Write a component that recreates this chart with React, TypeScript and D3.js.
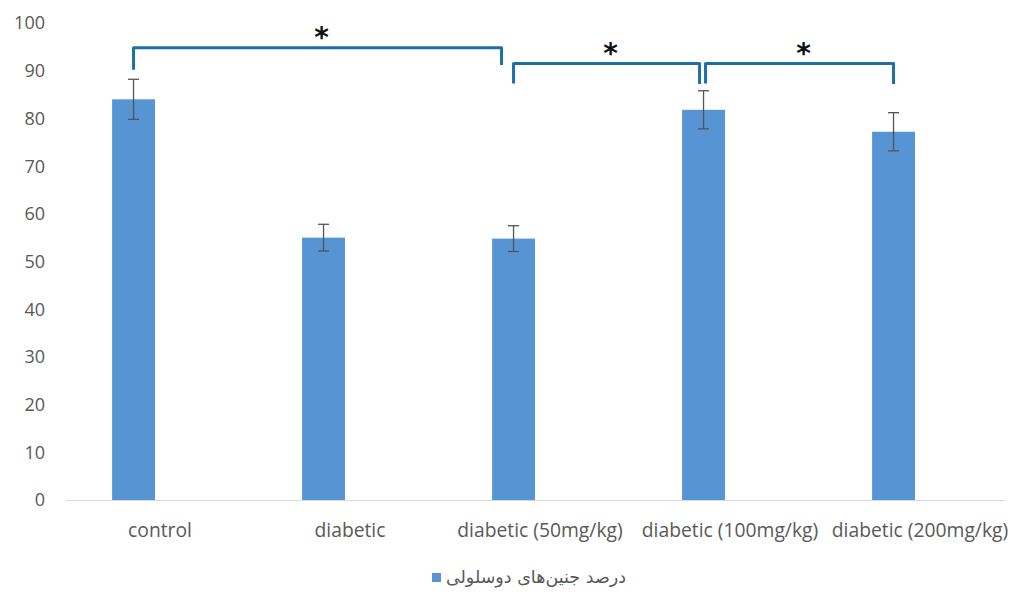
import * as d3 from 'd3'

const categories = ['control', 'diabetic', 'diabetic (50mg/kg)', 'diabetic (100mg/kg)', 'diabetic (200mg/kg)']
const values = [84, 55, 54.8, 81.8, 77.2]
const errors = [4.2, 2.8, 2.7, 4, 4]
const yTicks = [0, 10, 20, 30, 40, 50, 60, 70, 80, 90, 100]
const seriesName = 'درصد جنین‌های دوسلولی'

// significance brackets: [from index, to index, top value, left leg value, right leg value]
const brackets = [
  { from: 0, to: 2, top: 94.8, leftEnd: 90.2, rightEnd: 91.2, inL: 0, inR: -12 },
  { from: 2, to: 3, top: 91.5, leftEnd: 87.3, rightEnd: 87.2, inL: 0, inR: -4 },
  { from: 3, to: 4, top: 91.5, leftEnd: 87.3, rightEnd: 87.2, inL: 2, inR: 0 },
]

const W = 1013
const H = 598

export default function App() {
  const x = d3.scaleBand<string>().domain(categories).range([65, 1015]).padding(0)
  // second slot is empty (single series in a clustered layout)
  const x1 = d3.scaleBand<string>().domain(['s1', 's2']).range([0, x.bandwidth()]).paddingInner(0.19).paddingOuter(0.89)
  const y = d3.scaleLinear().domain([0, 100]).range([500, 23])

  const barCx = (i: number) => (x(categories[i]) as number) + (x1('s1') as number) + x1.bandwidth() / 2
  const font = '"Open Sans", "Noto Sans", sans-serif'

  return (
    <svg width={W} height={H} style={{ position: 'absolute', left: 0, top: 0, background: '#fff' }}>
      {/* y tick labels */}
      {yTicks.map((t) => (
        <text key={t} x={45} y={y(t)} dy="0.36em" textAnchor="end" fontFamily={font} fontSize={18} fill="#595959">
          {t}
        </text>
      ))}
      {/* bars */}
      {categories.map((c, i) => (
        <rect
          key={c}
          x={(x(c) as number) + (x1('s1') as number)}
          y={y(values[i])}
          width={x1.bandwidth()}
          height={y(0) - y(values[i])}
          fill="#5794d4"
        />
      ))}
      {/* x axis line */}
      <line x1={66} x2={1005} y1={y(0) + 0.5} y2={y(0) + 0.5} stroke="#d9d9d9" strokeWidth={1.2} />
      {/* error bars */}
      {categories.map((c, i) => {
        const cx = barCx(i)
        const top = y(values[i] + errors[i])
        const bot = y(values[i] - errors[i])
        return (
          <g key={c} stroke="#555" strokeWidth={1.3}>
            <line x1={cx} x2={cx} y1={top} y2={bot} />
            <line x1={cx - 5.5} x2={cx + 5.5} y1={top} y2={top} />
            <line x1={cx - 5.5} x2={cx + 5.5} y1={bot} y2={bot} />
          </g>
        )
      })}
      {/* category labels */}
      {categories.map((c) => (
        <text
          key={c}
          x={(x(c) as number) + x.bandwidth() / 2}
          y={537}
          textAnchor="middle"
          fontFamily={font}
          fontSize={19.3}
          fill="#595959"
        >
          {c}
        </text>
      ))}
      {/* significance brackets */}
      {brackets.map((b, i) => {
        const xl = barCx(b.from) + b.inL
        const xr = barCx(b.to) + b.inR
        const path = d3.path()
        path.moveTo(xl, y(b.leftEnd))
        path.lineTo(xl, y(b.top))
        path.lineTo(xr, y(b.top))
        path.lineTo(xr, y(b.rightEnd))
        return (
          <g key={i}>
            <path d={path.toString()} fill="none" stroke="#1f6fa6" strokeWidth={3} strokeLinejoin="round" />
            <text
              x={(xl + xr) / 2 + 4}
              y={y(b.top) - 1}
              textAnchor="middle"
              fontFamily='"DejaVu Sans", sans-serif'
              fontWeight="bold"
              fontSize={28}
              fill="#111"
            >
              *
            </text>
          </g>
        )
      })}
      {/* legend */}
      <rect x={432} y={573} width={9} height={9} fill="#5794d4" />
      <text x={626} y={583} textAnchor="end" fontFamily='"DejaVu Sans", "Noto Sans", sans-serif' fontSize={17.5} fill="#595959">
        {seriesName}
      </text>
    </svg>
  )
}
